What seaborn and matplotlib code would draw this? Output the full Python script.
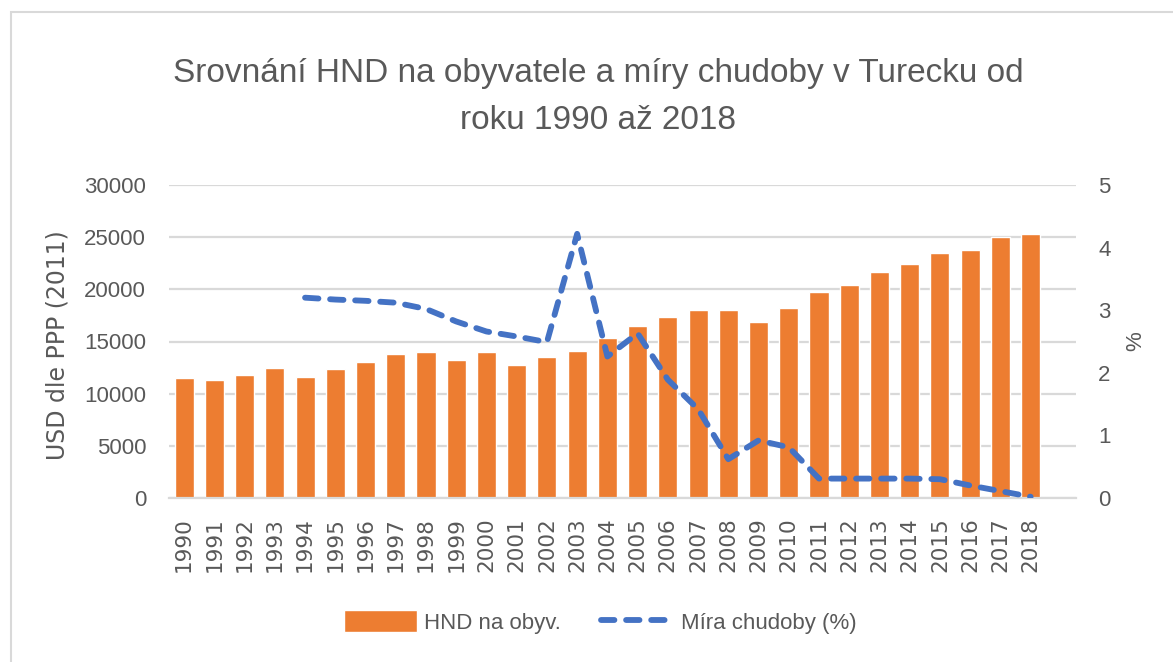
import numpy as np
import pandas as pd
import matplotlib
matplotlib.use("Agg")
import matplotlib.pyplot as plt
from matplotlib.patches import Rectangle
import seaborn as sns

# ---- data ----
years = list(range(1990, 2019))
gni_per_capita = [11500, 11320, 11790, 12490, 11630, 12360, 13060, 13830, 13960, 13230,
                  13960, 12780, 13510, 14090, 15300, 16490, 17320, 18020, 18020, 16870,
                  18210, 19770, 20390, 21690, 22400, 23450, 23740, 25050, 25330]
poverty_years = list(range(1994, 2019))
poverty_rate = [3.20, 3.17, 3.15, 3.12, 3.02, 2.82, 2.66, 2.58, 2.49, 4.22,
                2.26, 2.63, 1.89, 1.42, 0.62, 0.92, 0.81, 0.31, 0.31, 0.31,
                0.31, 0.30, 0.20, 0.11, 0.02]
title = "Srovnání HND na obyvatele a míry chudoby v Turecku od\nroku 1990 až 2018"
bar_label = "HND na obyv."
line_label = "Míra chudoby (%)"
left_label = "USD dle PPP (2011)"
right_label = "%"

ORANGE = "#ED7D31"
BLUE = "#4472C4"
GRID = "#D9D9D9"
TEXT = "#595959"

sns.set_theme(style="white")
plt.rcParams["font.family"] = ["Liberation Sans", "DejaVu Sans"]

W, H = 1173, 662
fig = plt.figure(figsize=(W / 100, H / 100), dpi=100)
fig.patch.set_facecolor("white")

def fx(px):
    return px / W

def fy(py):
    return 1 - py / H

ax = fig.add_axes([fx(169), fy(498), fx(1076) - fx(169), fy(185) - fy(498)])

df = pd.DataFrame({"year": [str(y) for y in years], "gni": gni_per_capita})
sns.barplot(data=df, x="year", y="gni", color=ORANGE, saturation=1, width=0.63,
            ax=ax, label=bar_label, zorder=2)

ax2 = ax.twinx()
pos = {str(y): i for i, y in enumerate(years)}
dfp = pd.DataFrame({"pos": [pos[str(y)] for y in poverty_years], "pov": poverty_rate})
sns.lineplot(data=dfp, x="pos", y="pov", ax=ax2, color=BLUE, linewidth=4.2,
             label=line_label, zorder=3)
ln = ax2.lines[0]
ln.set_linestyle((0, (2.3, 2.0)))
ln.set_dash_capstyle("round")
ln.set_solid_capstyle("round")
if ax2.get_legend() is not None:
    ax2.get_legend().remove()
if ax.get_legend() is not None:
    ax.get_legend().remove()

# axes
ax.set_xlim(-0.5, 29.5)
ax.set_ylim(0, 30000)
ax.set_yticks(np.arange(0, 30001, 5000))
ax2.set_ylim(0, 5)
ax2.set_yticks(np.arange(0, 6, 1))
ax.set_xlabel("")
ax.set_ylabel("")
ax2.set_xlabel("")
ax2.set_ylabel("")

ax.yaxis.grid(True, color=GRID, linewidth=1.6)
ax.xaxis.grid(False)
ax.set_axisbelow(True)
ax2.grid(False)
for a in (ax, ax2):
    for s in a.spines.values():
        s.set_visible(False)
ax.spines["bottom"].set_visible(True)
ax.spines["bottom"].set_color(GRID)
ax.spines["bottom"].set_linewidth(1.6)

ax.tick_params(axis="y", length=0, pad=16.5, labelsize=16, labelcolor=TEXT)
ax2.tick_params(axis="y", length=0, pad=16, labelsize=16, labelcolor=TEXT)
ax.tick_params(axis="x", length=0, pad=14, labelrotation=90, labelcolor=TEXT)
for lbl in ax.get_xticklabels():
    lbl.set_fontfamily("DejaVu Sans")
    lbl.set_fontsize(15.5)

# axis titles
fig.text(fx(58), fy(345), left_label, rotation=90, ha="center", va="center",
         fontsize=17, color=TEXT, family="DejaVu Sans")
fig.text(fx(1136), fy(341), right_label, rotation=90, ha="center", va="center",
         fontsize=16, color=TEXT)

# title
fig.text(fx(598), fy(97), title, ha="center", va="center", fontsize=24,
         color=TEXT, linespacing=1.7)

# legend
h1, l1 = ax.get_legend_handles_labels()
h2, l2 = ax2.get_legend_handles_labels()
leg = fig.legend(h1 + h2, l1 + l2, loc="center", bbox_to_anchor=(fx(600), fy(622)),
                 ncol=2, frameon=False, fontsize=16, handlelength=3.3,
                 handleheight=1.1, handletextpad=0.3, columnspacing=1.8,
                 labelcolor=TEXT)

# chart border
fig.add_artist(Rectangle((fx(11), -0.1), 1.2, fy(12) + 0.1, transform=fig.transFigure,
                         fill=False, edgecolor=GRID, linewidth=1.5))

fig.savefig("out.png", dpi=100, facecolor="white")
